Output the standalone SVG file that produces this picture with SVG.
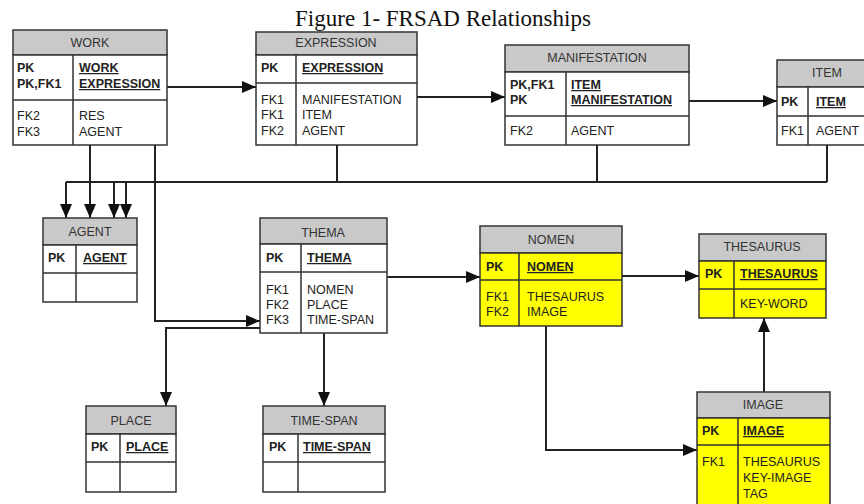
<svg xmlns="http://www.w3.org/2000/svg" width="864" height="504" viewBox="0 0 864 504">
<defs>
<marker id="ah" viewBox="0 0 14 12" markerUnits="userSpaceOnUse" markerWidth="14" markerHeight="12" refX="14" refY="6" orient="auto">
<path d="M0,0 L14,6 L0,12 z" fill="#111"/>
</marker>
</defs>
<style>
.box{fill:#fff;stroke:#333;stroke-width:1.5}
.yel{fill:#ffff00;stroke:#333;stroke-width:1.5}
.hdr{fill:#c9c9c9;stroke:#333;stroke-width:1.5}
.ln{fill:none;stroke:#333;stroke-width:1.5}
text{font-family:"Liberation Sans",Arial,sans-serif;font-size:12.5px;fill:#222}
.h{text-anchor:middle;fill:#333}
.b{font-weight:bold}
.u{font-weight:bold;text-decoration:underline}
.c{fill:none;stroke:#222;stroke-width:2}
.a{marker-end:url(#ah)}
.title{font-family:"Liberation Serif","Times New Roman",serif;font-size:23px;fill:#111}
</style>
<rect width="864" height="504" fill="#fff"/>
<text class="title" x="443" y="26" text-anchor="middle">Figure 1- FRSAD Relationships</text>

<g id="connectors">
<path class="c a" d="M167,87 H256"/>
<path class="c a" d="M417,97 H505"/>
<path class="c a" d="M689,101 H777"/>
<path class="c" d="M66,182 H827 M337,145 V182 M597,145 V182 M827,145 V182"/>
<path class="c a" d="M66,182 V218"/>
<path class="c a" d="M90,145 V218"/>
<path class="c a" d="M114,182 V218"/>
<path class="c a" d="M126,182 V218"/>
<path class="c a" d="M155,145 V321 H260"/>
<path class="c a" d="M260,328 H166 V406"/>
<path class="c a" d="M324,333 V406"/>
<path class="c a" d="M387,277 H480"/>
<path class="c a" d="M622,276 H699"/>
<path class="c a" d="M546,326 V450 H697"/>
<path class="c a" d="M764,392 V318"/>
</g>

<g id="work">
<rect class="hdr" x="13" y="30" width="154" height="25"/>
<rect class="box" x="13" y="55" width="154" height="90"/>
<path class="ln" d="M13,100 H167 M73,55 V145"/>
<text class="h" x="90" y="47">WORK</text>
<text class="b" x="17" y="72">PK</text>
<text class="b" x="17" y="88">PK,FK1</text>
<text class="u" x="79" y="72">WORK</text>
<text class="u" x="79" y="88">EXPRESSION</text>
<text x="17" y="120">FK2</text>
<text x="17" y="136">FK3</text>
<text x="79" y="120">RES</text>
<text x="79" y="136">AGENT</text>
</g>

<g id="expression">
<rect class="hdr" x="256" y="32" width="161" height="23"/>
<rect class="box" x="256" y="55" width="161" height="90"/>
<path class="ln" d="M256,83 H417 M296,55 V145"/>
<text class="h" x="336" y="47">EXPRESSION</text>
<text class="b" x="261" y="72">PK</text>
<text class="u" x="302" y="72">EXPRESSION</text>
<text x="261" y="104">FK1</text>
<text x="261" y="119">FK1</text>
<text x="261" y="135">FK2</text>
<text x="302" y="104">MANIFESTATION</text>
<text x="302" y="119">ITEM</text>
<text x="302" y="135">AGENT</text>
</g>

<g id="manifestation">
<rect class="hdr" x="505" y="45" width="184" height="27"/>
<rect class="box" x="505" y="72" width="184" height="73"/>
<path class="ln" d="M505,116 H689 M566,72 V145"/>
<text class="h" x="597" y="62">MANIFESTATION</text>
<text class="b" x="510" y="89">PK,FK1</text>
<text class="b" x="510" y="104">PK</text>
<text class="u" x="571" y="89">ITEM</text>
<text class="u" x="571" y="104">MANIFESTATION</text>
<text x="510" y="135">FK2</text>
<text x="571" y="135">AGENT</text>
</g>

<g id="item">
<rect class="hdr" x="777" y="60" width="100" height="27"/>
<rect class="box" x="777" y="87" width="100" height="58"/>
<path class="ln" d="M777,116 H877 M808,87 V145"/>
<text class="h" x="827" y="77">ITEM</text>
<text class="b" x="781" y="106">PK</text>
<text class="u" x="816" y="106">ITEM</text>
<text x="781" y="135">FK1</text>
<text x="816" y="135">AGENT</text>
</g>

<g id="agent">
<rect class="hdr" x="43" y="218" width="94" height="27"/>
<rect class="box" x="43" y="245" width="94" height="57"/>
<path class="ln" d="M43,273 H137 M76,245 V302"/>
<text class="h" x="90" y="236">AGENT</text>
<text class="b" x="48" y="262">PK</text>
<text class="u" x="83" y="262">AGENT</text>
</g>

<g id="thema">
<rect class="hdr" x="260" y="218" width="127" height="26"/>
<rect class="box" x="260" y="244" width="127" height="89"/>
<path class="ln" d="M260,272 H387 M301,244 V333"/>
<text class="h" x="323" y="237">THEMA</text>
<text class="b" x="266" y="262">PK</text>
<text class="u" x="307" y="262">THEMA</text>
<text x="266" y="294">FK1</text>
<text x="266" y="309">FK2</text>
<text x="266" y="324">FK3</text>
<text x="307" y="294">NOMEN</text>
<text x="307" y="309">PLACE</text>
<text x="307" y="324">TIME-SPAN</text>
</g>

<g id="nomen">
<rect class="hdr" x="480" y="226" width="142" height="27"/>
<rect class="yel" x="480" y="253" width="142" height="73"/>
<path class="ln" d="M480,280 H622 M519,253 V326"/>
<text class="h" x="551" y="244">NOMEN</text>
<text class="b" x="486" y="271">PK</text>
<text class="u" x="527" y="271">NOMEN</text>
<text x="486" y="301">FK1</text>
<text x="486" y="316">FK2</text>
<text x="527" y="301">THESAURUS</text>
<text x="527" y="316">IMAGE</text>
</g>

<g id="thesaurus">
<rect class="hdr" x="699" y="234" width="127" height="27"/>
<rect class="yel" x="699" y="261" width="127" height="57"/>
<path class="ln" d="M699,289 H826 M734,261 V318"/>
<text class="h" x="762" y="251">THESAURUS</text>
<text class="b" x="705" y="278">PK</text>
<text class="u" x="740" y="278">THESAURUS</text>
<text x="740" y="308">KEY-WORD</text>
</g>

<g id="place">
<rect class="hdr" x="86" y="406" width="90" height="28"/>
<rect class="box" x="86" y="434" width="90" height="58"/>
<path class="ln" d="M86,462 H176 M120,434 V492"/>
<text class="h" x="131" y="425">PLACE</text>
<text class="b" x="91" y="451">PK</text>
<text class="u" x="126" y="451">PLACE</text>
</g>

<g id="time-span">
<rect class="hdr" x="263" y="406" width="122" height="28"/>
<rect class="box" x="263" y="434" width="122" height="58"/>
<path class="ln" d="M263,462 H385 M298,434 V492"/>
<text class="h" x="324" y="425">TIME-SPAN</text>
<text class="b" x="269" y="451">PK</text>
<text class="u" x="303" y="451">TIME-SPAN</text>
</g>

<g id="image">
<rect class="hdr" x="697" y="392" width="133" height="26"/>
<rect class="yel" x="697" y="418" width="133" height="92"/>
<path class="ln" d="M697,445 H830 M738,418 V510"/>
<text class="h" x="763" y="409">IMAGE</text>
<text class="b" x="702" y="435">PK</text>
<text class="u" x="743" y="435">IMAGE</text>
<text x="702" y="466">FK1</text>
<text x="743" y="466">THESAURUS</text>
<text x="743" y="482">KEY-IMAGE</text>
<text x="743" y="498">TAG</text>
</g>
</svg>
